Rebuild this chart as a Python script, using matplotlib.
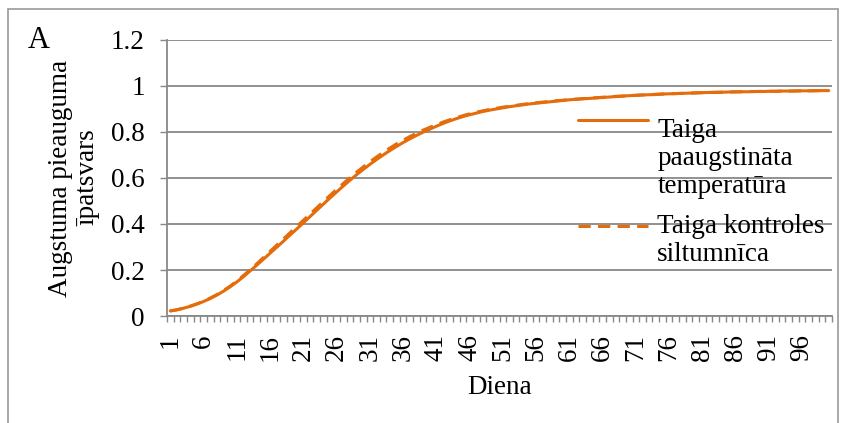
import numpy as np
import matplotlib
matplotlib.use("Agg")
import matplotlib.pyplot as plt
from matplotlib.patches import Rectangle
from matplotlib.legend_handler import HandlerLine2D

# Days of the experiment
days = list(range(1, 101))

# Relative height increment, elevated temperature
taiga_warm = [
    0.022, 0.027, 0.034, 0.042, 0.052, 0.063, 0.076, 0.091, 0.108, 0.127,
    0.148, 0.171, 0.196, 0.221, 0.247, 0.273, 0.299, 0.325, 0.352, 0.378,
    0.405, 0.432, 0.459, 0.486, 0.513, 0.539, 0.565, 0.590, 0.614, 0.637,
    0.659, 0.680, 0.700, 0.719, 0.737, 0.754, 0.770, 0.785, 0.799, 0.812,
    0.825, 0.837, 0.848, 0.858, 0.867, 0.875, 0.882, 0.889, 0.895, 0.900,
    0.905, 0.910, 0.914, 0.918, 0.922, 0.925, 0.928, 0.931, 0.934, 0.937,
    0.940, 0.942, 0.944, 0.946, 0.948, 0.950, 0.952, 0.954, 0.956, 0.958,
    0.959, 0.961, 0.962, 0.963, 0.965, 0.966, 0.967, 0.968, 0.969, 0.970,
    0.971, 0.972, 0.972, 0.973, 0.974, 0.974, 0.975, 0.975, 0.976, 0.976,
    0.977, 0.977, 0.978, 0.978, 0.978, 0.979, 0.979, 0.979, 0.980, 0.980,
]

# Relative height increment, control greenhouse
taiga_control = [
    0.022, 0.027, 0.034, 0.043, 0.053, 0.064, 0.078, 0.093, 0.111, 0.130,
    0.152, 0.176, 0.201, 0.227, 0.254, 0.281, 0.308, 0.335, 0.362, 0.389,
    0.416, 0.443, 0.470, 0.497, 0.524, 0.550, 0.576, 0.601, 0.625, 0.648,
    0.670, 0.691, 0.711, 0.730, 0.748, 0.764, 0.780, 0.794, 0.808, 0.820,
    0.832, 0.843, 0.853, 0.862, 0.871, 0.879, 0.886, 0.892, 0.898, 0.903,
    0.908, 0.912, 0.916, 0.920, 0.924, 0.927, 0.930, 0.933, 0.936, 0.938,
    0.941, 0.943, 0.945, 0.947, 0.949, 0.951, 0.953, 0.955, 0.956, 0.958,
    0.960, 0.961, 0.962, 0.964, 0.965, 0.966, 0.967, 0.968, 0.969, 0.970,
    0.971, 0.972, 0.973, 0.973, 0.974, 0.975, 0.975, 0.976, 0.976, 0.977,
    0.977, 0.977, 0.978, 0.978, 0.979, 0.979, 0.979, 0.980, 0.980, 0.980,
]

series_labels = ["Taiga\npaaugstināta\ntemperatūra", "Taiga kontroles\nsiltumnīca"]
x_label = "Diena"
y_label = "Augstuma pieauguma\nīpatsvars"
panel_letter = "A"
y_ticks = [0, 0.2, 0.4, 0.6, 0.8, 1.0, 1.2]
y_tick_labels = ["0", "0.2", "0.4", "0.6", "0.8", "1", "1.2"]
x_label_days = days[::5]

ORANGE = "#E46C0A"
GREY = "#888888"
FS = 19.5

plt.rcParams["font.family"] = ["Liberation Serif", "DejaVu Serif"]
plt.rcParams["font.size"] = FS

fig = plt.figure(figsize=(8.47, 4.23), dpi=100)
W, H = 847, 423
ax = fig.add_axes([167 / W, 1 - 316 / H, (832 - 167) / W, (316 - 40) / H])

# outer chart frame (open at the bottom edge of the image)
fig.patches.append(Rectangle((8 / W, -0.2), (838 - 8) / W, 1 - 9 / H + 0.2,
                             transform=fig.transFigure, fill=False,
                             ec="#9a9a9a", lw=1.2))

solid, = ax.plot(days, taiga_warm, color=ORANGE, lw=2.2,
                 solid_capstyle="round", zorder=3)
dashed, = ax.plot(days, taiga_control, color=ORANGE, lw=2.2,
                  linestyle=(0, (4, 2.4)), zorder=4)

ax.set_xlim(0.5, 100.5)
ax.set_ylim(0, 1.2)

ax.set_yticks(y_ticks)
ax.set_yticklabels(y_tick_labels)
ax.tick_params(axis="y", length=5, width=1.0, color=GREY, pad=11)

ax.set_xticks(x_label_days)
ax.set_xticklabels([str(d) for d in x_label_days], rotation=90)
ax.set_xticks(np.arange(0.5, 101, 1), minor=True)
ax.tick_params(axis="x", which="major", length=0, pad=13)
ax.tick_params(axis="x", which="minor", length=4, width=1.0, color=GREY)

ax.grid(axis="y", color=GREY, lw=1.3)
ax.set_axisbelow(True)
for side in ("top", "right"):
    ax.spines[side].set_visible(False)
for side in ("left", "bottom"):
    ax.spines[side].set_color(GREY)
    ax.spines[side].set_linewidth(1.3)

ax.set_xlabel(x_label, labelpad=10)
fig.text(74 / W, 1 - 178 / H, y_label, rotation=90, ha="center", va="center",
         linespacing=1.12)
fig.text(39 / W, 1 - 40 / H, panel_letter, ha="center", va="center",
         fontsize=22)


class FirstLineHandler(HandlerLine2D):
    """Line key raised towards the first line of a multi-line label."""

    def __init__(self, lift, **kw):
        super().__init__(**kw)
        self.lift = lift  # in units of the legend font size

    def create_artists(self, legend, orig_handle, xdescent, ydescent,
                       width, height, fontsize, trans):
        arts = super().create_artists(legend, orig_handle, xdescent, ydescent,
                                      width, height, fontsize, trans)
        for a in arts:
            a.set_ydata(np.asarray(a.get_ydata()) + self.lift * fontsize)
        return arts


leg = ax.legend([solid, dashed], series_labels,
                loc="upper left", bbox_to_anchor=((578 - 167) / 665, 0.717),
                frameon=False, borderpad=0, borderaxespad=0,
                handlelength=2.6, handletextpad=0.33, labelspacing=0.55,
                handler_map={solid: FirstLineHandler(1.42),
                             dashed: FirstLineHandler(0.52)})
for t in leg.get_texts():
    t.set_linespacing(1.15)
leg.set_zorder(6)

fig.savefig("out.png", dpi=100)
